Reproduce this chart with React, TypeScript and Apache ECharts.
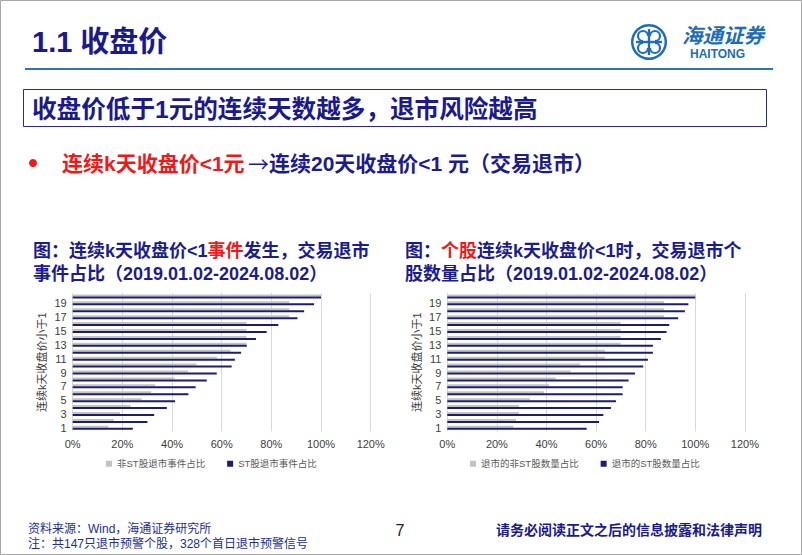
import React, { useEffect, useRef } from "react";
import * as echarts from "echarts";

const categories = ["1", "2", "3", "4", "5", "6", "7", "8", "9", "10", "11", "12", "13", "14", "15", "16", "17", "18", "19", "20"];
// Chart 1: share of events (%)
const eventNonST = [14.4, 16.5, 19.0, 23.3, 27.8, 31.6, 33.2, 41.0, 46.4, 49.8, 58.1, 63.5, 70.0, 70.0, 70.0, 70.0, 87.2, 87.2, 87.2, 100];
const eventST = [24.2, 30.1, 32.8, 37.9, 41.2, 46.6, 49.5, 54.0, 58.0, 64.0, 65.3, 67.8, 70.1, 73.8, 78.1, 82.8, 90.5, 93.2, 97.2, 100];
// Chart 2: share of stocks (%)
const stockNonST = [26.6, 27.7, 28.9, 28.9, 33.3, 39.0, 41.0, 43.7, 49.7, 53.5, 63.5, 63.5, 69.9, 69.9, 69.9, 69.9, 87.4, 87.4, 87.4, 100];
const stockST = [56.2, 61.2, 62.9, 66.0, 68.0, 70.7, 70.7, 73.1, 75.7, 79.0, 80.9, 82.9, 82.9, 86.1, 88.4, 89.5, 93.1, 95.8, 97.2, 100];
const xTickMin = 0;
const xTickMax = 120;
const xTickStep = 20;

const legend1 = ["非ST股退市事件占比", "ST股退市事件占比"];
const legend2 = ["退市的非ST股数量占比", "退市的ST股数量占比"];
const yAxisName = "连续k天收盘价小于1";

const FONT = "'Liberation Sans', 'Noto Sans CJK SC', sans-serif";
const CJK = "'Noto Sans CJK SC', sans-serif";
const NAVY = "#1c1c8a";
const RED = "#f01818";
const GREY_BAR = "#c3c3c3";
const NAVY_BAR = "#1d1d70";
const LOGO = "#1f6db5";

function makeXAxis(gridIndex: number) {
  return {
    type: "value",
    gridIndex,
    min: xTickMin,
    max: xTickMax,
    interval: xTickStep,
    axisLine: { show: false },
    axisTick: { show: false },
    splitLine: { show: true, lineStyle: { color: "#d9d9d9", width: 1 } },
    axisLabel: { formatter: "{value}%", fontSize: 11, color: "#404040", fontFamily: FONT, margin: 7 },
  };
}

function makeYAxis(gridIndex: number) {
  return {
    type: "category",
    gridIndex,
    data: categories,
    axisLine: { show: false },
    axisTick: { show: false },
    axisLabel: { interval: 1, fontSize: 11, color: "#404040", fontFamily: FONT, margin: 6 },
    name: yAxisName,
    nameLocation: "middle",
    nameRotate: 90,
    nameGap: 25,
    nameTextStyle: { fontSize: 11, color: "#404040", fontFamily: FONT },
  };
}

function bar(name: string, data: number[], color: string, idx: number) {
  return {
    type: "bar",
    name,
    data,
    xAxisIndex: idx,
    yAxisIndex: idx,
    barWidth: 2,
    barGap: "0%",
    itemStyle: { color },
  };
}

function txt(x: number, y: number, text: string, fontSize: number, fill: string, fontWeight = "normal", extra: any = {}) {
  return {
    type: "text",
    x,
    y,
    style: { text, fontSize, fill, fontWeight, fontFamily: FONT, verticalAlign: "middle", ...extra },
  };
}

function richTitle(x: number, y: number, parts: [string, string][]) {
  const text = parts.map(([k, s]) => `{${k}|${s}}`).join("");
  const base = { fontSize: 18, fontWeight: "bold", fontFamily: FONT };
  return {
    type: "text",
    x,
    y,
    style: {
      text,
      verticalAlign: "middle",
      rich: { b: { ...base, fill: NAVY, color: NAVY }, r: { ...base, fill: RED, color: RED } },
    },
  };
}

export default function App() {
  const ref = useRef<HTMLDivElement>(null);
  useEffect(() => {
    if (!ref.current) return;
    const chart = echarts.init(ref.current, undefined, { renderer: "svg" });
    const lc = { cx: 649, cy: 42 };
    const legendBase = {
      top: 459,
      padding: 0,
      icon: "rect",
      itemWidth: 6,
      itemHeight: 6,
      itemGap: 22,
      textStyle: { fontSize: 9.5, color: "#595959", fontFamily: FONT },
    };
    const bulletBase = { fontSize: 21, fontWeight: "bold", fontFamily: FONT };
    const option: any = {
      animation: false,
      backgroundColor: "#ffffff",
      grid: [
        { left: 72.7, top: 293, width: 298, height: 138.3, containLabel: false },
        { left: 447.3, top: 293, width: 297.6, height: 138.3, containLabel: false },
      ],
      xAxis: [makeXAxis(0), makeXAxis(1)],
      yAxis: [makeYAxis(0), makeYAxis(1)],
      legend: [
        { ...legendBase, data: legend1, left: 106 },
        { ...legendBase, data: legend2, left: 470 },
      ],
      series: [
        bar(legend1[0], eventNonST, GREY_BAR, 0),
        bar(legend1[1], eventST, NAVY_BAR, 0),
        bar(legend2[0], stockNonST, GREY_BAR, 1),
        bar(legend2[1], stockST, NAVY_BAR, 1),
      ],
      graphic: [
        { type: "rect", shape: { x: 0.5, y: 0.5, width: 801, height: 554 }, style: { fill: "none", stroke: "#a6a6a6", lineWidth: 1 } },
        txt(32, 42, "1.1 收盘价", 29, "#1a1a8a", "bold"),
        // logo
        { type: "ring", shape: { cx: lc.cx, cy: lc.cy, r: 18, r0: 15.6 }, style: { fill: LOGO } },
        { type: "line", shape: { x1: lc.cx, y1: lc.cy - 13, x2: lc.cx, y2: lc.cy + 13 }, style: { stroke: LOGO, lineWidth: 2.4 } },
        { type: "line", shape: { x1: lc.cx - 13, y1: lc.cy, x2: lc.cx + 13, y2: lc.cy }, style: { stroke: LOGO, lineWidth: 2.4 } },
        { type: "arc", shape: { cx: lc.cx - 6, cy: lc.cy - 6, r: 5, startAngle: Math.PI * 0.5, endAngle: Math.PI * 2 }, style: { stroke: LOGO, lineWidth: 2.2, fill: "none" } },
        { type: "arc", shape: { cx: lc.cx + 6, cy: lc.cy - 6, r: 5, startAngle: Math.PI, endAngle: Math.PI * 2.5 }, style: { stroke: LOGO, lineWidth: 2.2, fill: "none" } },
        { type: "arc", shape: { cx: lc.cx + 6, cy: lc.cy + 6, r: 5, startAngle: Math.PI * 1.5, endAngle: Math.PI * 3 }, style: { stroke: LOGO, lineWidth: 2.2, fill: "none" } },
        { type: "arc", shape: { cx: lc.cx - 6, cy: lc.cy + 6, r: 5, startAngle: 0, endAngle: Math.PI * 1.5 }, style: { stroke: LOGO, lineWidth: 2.2, fill: "none" } },
        txt(682, 35, "海通证券", 20.5, LOGO, "bold", { fontStyle: "italic" }),
        txt(690, 53.5, "HAITONG", 12, LOGO, "bold"),
        { type: "line", shape: { x1: 25, y1: 69, x2: 773, y2: 69 }, style: { stroke: "#2e75b6", lineWidth: 2 } },
        { type: "rect", shape: { x: 23.5, y: 89.5, width: 743, height: 37 }, style: { fill: "none", stroke: "#2a2a8c", lineWidth: 1 } },
        txt(32, 109, "收盘价低于1元的连续天数越多，退市风险越高", 24.6, "#1a1a8a", "bold"),
        { type: "circle", shape: { cx: 33, cy: 163, r: 4 }, style: { fill: RED } },
        {
          type: "text",
          x: 62,
          y: 163,
          style: {
            text: "{r|连续k天收盘价<1元} {a|→}{b|连续20天收盘价<1 元（交易退市）}",
            verticalAlign: "middle",
            rich: {
              r: { ...bulletBase, fill: RED, color: RED },
              a: { ...bulletBase, fontFamily: CJK, fontWeight: "normal", fill: NAVY, color: NAVY },
              b: { ...bulletBase, fill: NAVY, color: NAVY },
            },
          },
        },
        richTitle(33, 251, [["b", "图：连续k天收盘价<1"], ["r", "事件"], ["b", "发生，交易退市"]]),
        richTitle(33, 273.5, [["b", "事件占比（2019.01.02-2024.08.02）"]]),
        richTitle(405, 251, [["b", "图："], ["r", "个股"], ["b", "连续k天收盘价<1时，交易退市个"]]),
        richTitle(405, 273.5, [["b", "股数量占比（2019.01.02-2024.08.02）"]]),
        txt(28, 529, "资料来源：Wind，海通证券研究所", 12, "#22308a"),
        txt(28, 544, "注：共147只退市预警个股，328个首日退市预警信号", 12, "#22308a"),
        txt(400, 530, "7", 16, "#222222", "normal", { textAlign: "center" }),
        txt(496, 530, "请务必阅读正文之后的信息披露和法律声明", 14, "#1a1a8a", "bold"),
      ],
    };
    chart.setOption(option);
    return () => chart.dispose();
  }, []);
  return <div ref={ref} style={{ position: "fixed", left: 0, top: 0, width: 802, height: 555 }} />;
}
